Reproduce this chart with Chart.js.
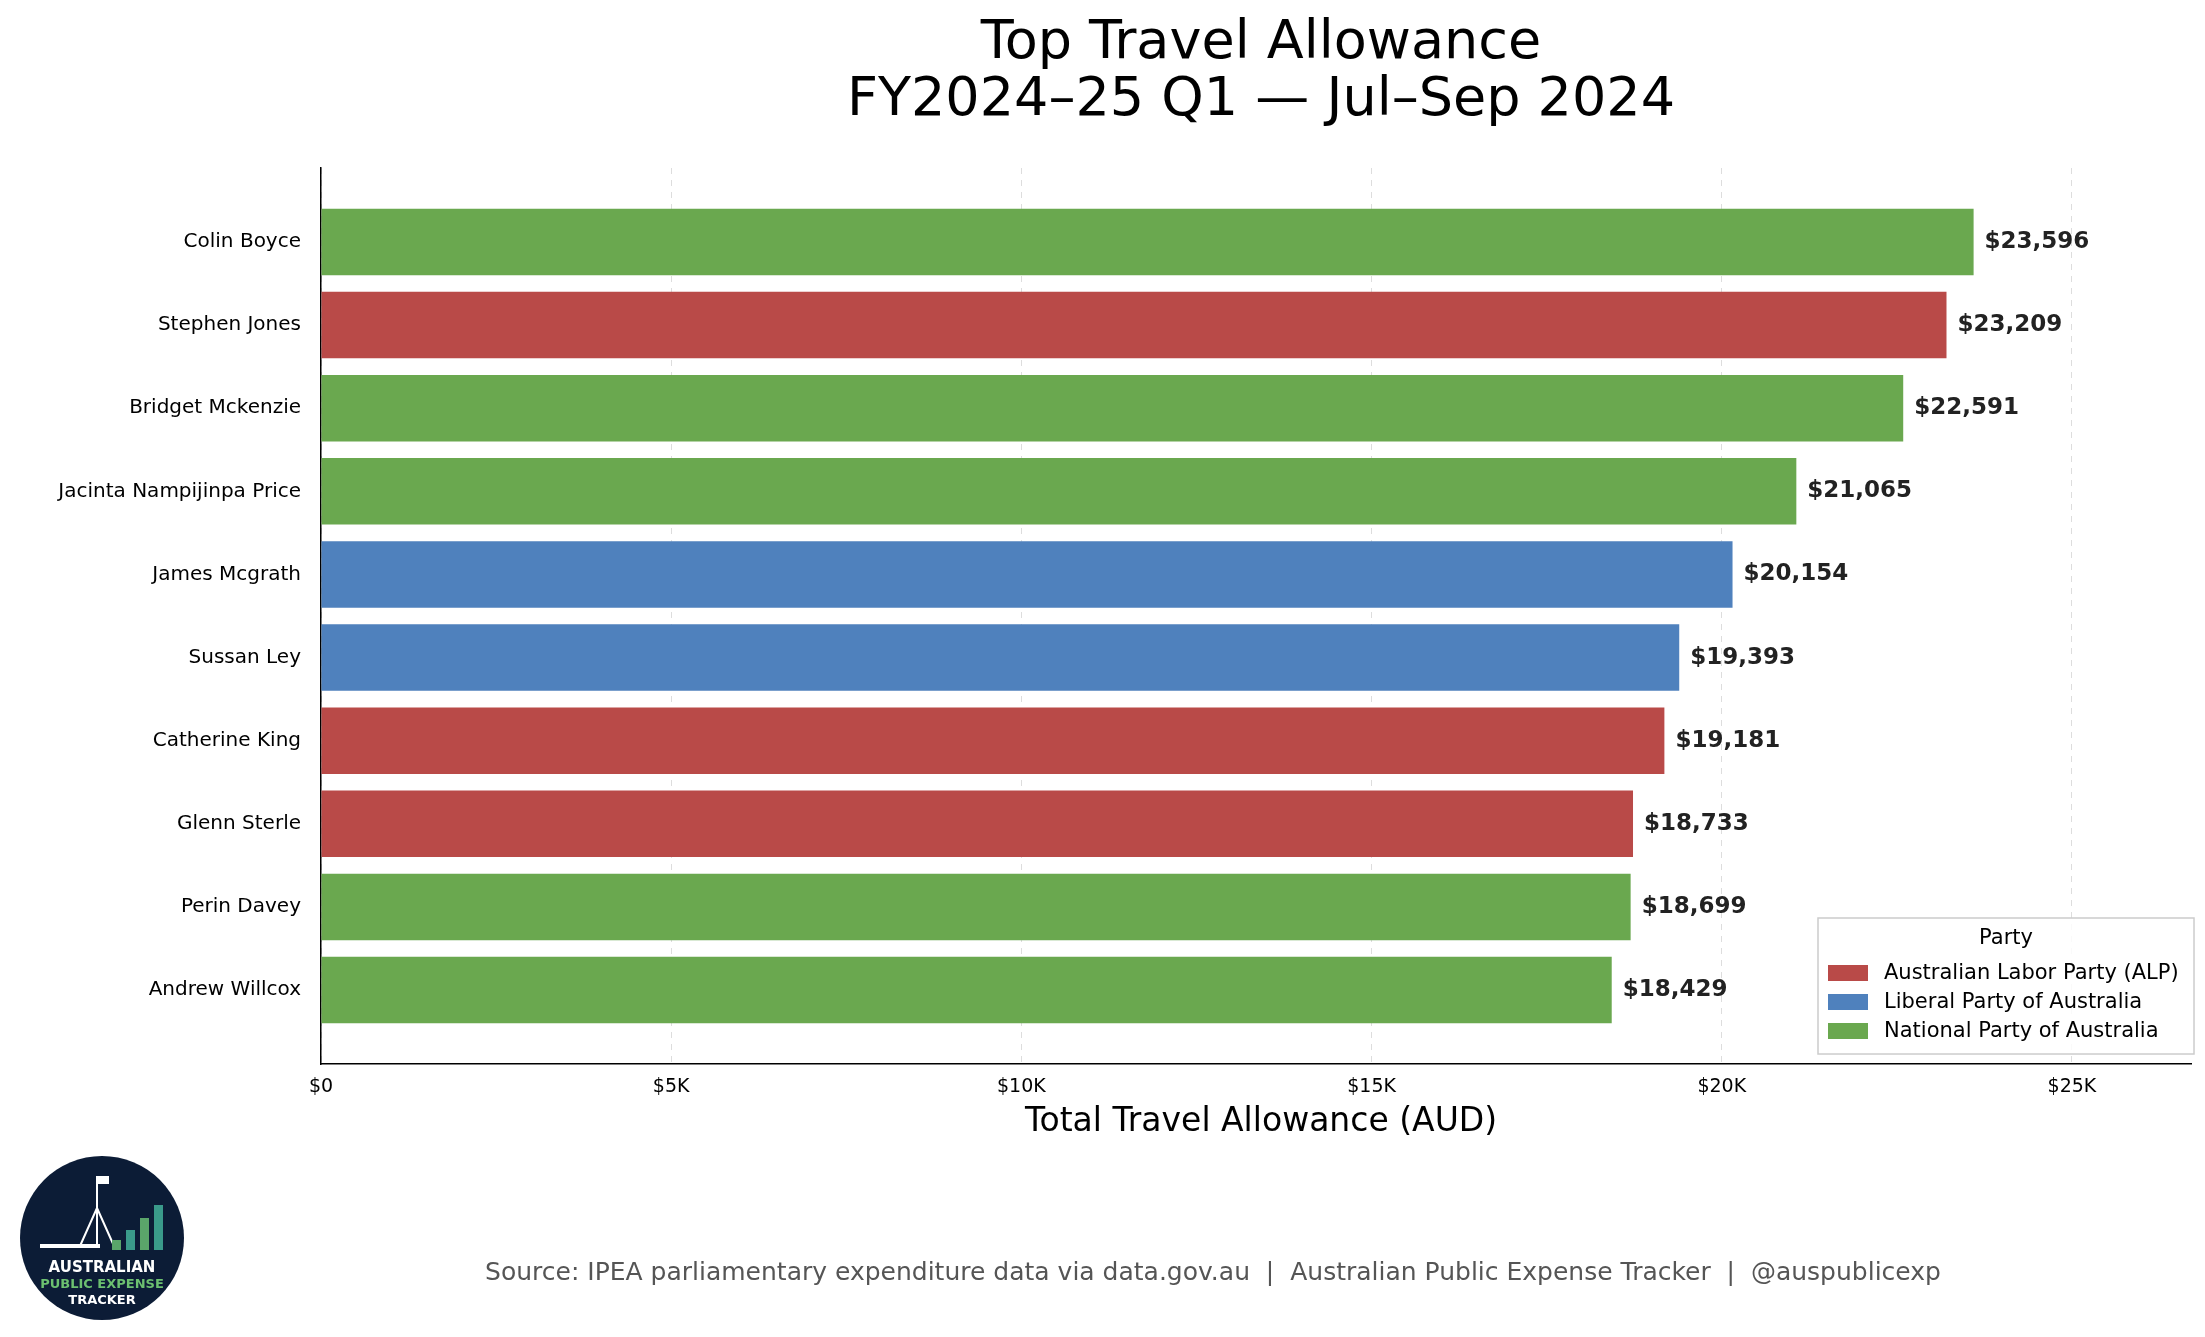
<!DOCTYPE html>
<html><head><meta charset="utf-8">
<script src="https://cdn.jsdelivr.net/npm/chart.js@4.4.1/dist/chart.umd.min.js"></script>
<style>html,body{margin:0;background:#fff;overflow:hidden;}</style>
</head><body><canvas id="c" width="2205" height="1337" style="width:2205px;height:1337px;display:block"></canvas>
<script>
const names=['Colin Boyce','Stephen Jones','Bridget Mckenzie','Jacinta Nampijinpa Price','James Mcgrath','Sussan Ley','Catherine King','Glenn Sterle','Perin Davey','Andrew Willcox'];
const amounts=[23596,23209,22591,21065,20154,19393,19181,18733,18699,18429];
const parties=['NAT','ALP','NAT','NAT','LIB','LIB','ALP','ALP','NAT','NAT'];
const partyNames={ALP:'Australian Labor Party (ALP)',LIB:'Liberal Party of Australia',NAT:'National Party of Australia'};
const partyColors={ALP:'#b94a48',LIB:'#4f81bd',NAT:'#6aa84f'};
const xTicks=[0,5000,10000,15000,20000,25000];
const font='"DejaVu Sans", sans-serif';

const extras={id:'extras',afterDatasetsDraw(chart){
  const c=chart.ctx,xs=chart.scales.x,ys=chart.scales.y;
  c.save();
  // value labels
  c.font='bold 23px '+font;c.fillStyle='#222';c.textBaseline='middle';c.textAlign='left';
  amounts.forEach((v,i)=>c.fillText('$'+v.toLocaleString('en-US'),xs.getPixelForValue(v)+11,ys.getPixelForValue(i)));
  // title
  c.fillStyle='#000';c.textAlign='center';c.font='54px '+font;
  c.fillText('Top Travel Allowance',1261,44);
  c.fillText('FY2024\u201325 Q1 \u2014 Jul\u2013Sep 2024',1261,101);
  c.font='33px '+font;c.fillText('Total Travel Allowance (AUD)',1261,1122);
  c.font='25px '+font;c.fillStyle='#555';
  c.fillText('Source: IPEA parliamentary expenditure data via data.gov.au  |  Australian Public Expense Tracker  |  @auspublicexp',1213,1273);
  // legend
  const lx=1818,ly=918,lw=376,lh=136;
  c.fillStyle='rgba(255,255,255,0.85)';c.strokeStyle='#ccc';c.lineWidth=1.5;
  c.fillRect(lx,ly,lw,lh);c.strokeRect(lx,ly,lw,lh);
  c.fillStyle='#000';c.font='21px '+font;c.fillText('Party',lx+lw/2,ly+21);
  c.textAlign='left';
  ['ALP','LIB','NAT'].forEach((p,k)=>{
    const yy=ly+55+k*29;
    c.fillStyle=partyColors[p];c.fillRect(lx+10,yy-8,40,16);
    c.fillStyle='#000';c.fillText(partyNames[p],lx+66,yy+1);
  });
  // logo
  const cx=102,cy=1238,r=82;
  c.fillStyle='#0c1c36';c.beginPath();c.arc(cx,cy,r,0,Math.PI*2);c.fill();
  c.strokeStyle='#fff';c.lineWidth=2;
  c.beginPath();c.moveTo(cx-5,cy+10);c.lineTo(cx-5,cy-62);c.stroke();
  c.fillStyle='#fff';c.fillRect(cx-5,cy-62,12,8);
  c.fillRect(cx-62,cy+6,60,4);
  c.beginPath();c.moveTo(cx-22,cy+8);c.lineTo(cx-5,cy-30);c.lineTo(cx+12,cy+8);c.stroke();
  const bh=[10,20,32,45];
  bh.forEach((h,k)=>{c.fillStyle=k%2?'#3a9a8a':'#5aa56a';c.fillRect(cx+10+k*14,cy+12-h,9,h);});
  c.textAlign='center';c.font='bold 15px '+font;
  c.fillStyle='#fff';c.fillText('AUSTRALIAN',cx,cy+30);
  c.fillStyle='#6cc070';c.font='bold 13px '+font;c.fillText('PUBLIC EXPENSE',cx,cy+47);
  c.fillStyle='#fff';c.fillText('TRACKER',cx,cy+63);
  c.restore();
}};

new Chart(document.getElementById('c'),{
  type:'bar',
  data:{datasets:[{data:amounts.map((v,i)=>({x:v,y:i})),backgroundColor:parties.map(p=>partyColors[p]),barPercentage:0.8,categoryPercentage:1}]},
  options:{indexAxis:'y',responsive:false,animation:false,devicePixelRatio:1,
    layout:{padding:{top:168,right:14,left:0,bottom:0}},
    plugins:{legend:{display:false},tooltip:{enabled:false}},
    scales:{
      x:{type:'linear',min:0,max:26700,
        afterBuildTicks:s=>{s.ticks=xTicks.map(v=>({value:v}));},
        afterFit:s=>{s.height=273;},
        grid:{color:'#ddd',tickLength:0,drawTicks:false},
        border:{display:true,color:'#000',width:1.5,dash:[6,6]},
        ticks:{padding:12,color:'#000',font:{size:19,family:font},callback:v=>v===0?'$0':'$'+(v/1000)+'K'}},
      y:{type:'linear',min:-0.89,max:9.89,reverse:true,offset:false,
        afterBuildTicks:s=>{s.ticks=names.map((n,i)=>({value:i}));},
        afterFit:s=>{s.width=321;},
        grid:{display:false},
        border:{display:true,color:'#000',width:1.5},
        ticks:{color:'#000',padding:12,font:{size:20,family:font},callback:v=>names[v]}}
    }},
  plugins:[extras]
});
</script></body></html>
